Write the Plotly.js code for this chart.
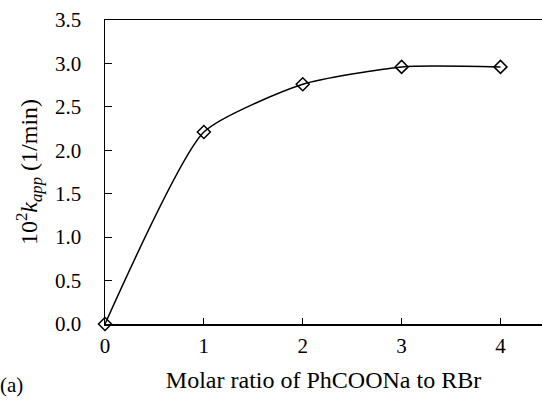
<!DOCTYPE html>
<html>
<head>
<meta charset="utf-8">
<script src="https://cdn.plot.ly/plotly-3.0.1.min.js"></script>
<style>html,body{margin:0;padding:0;background:#fff;}#chart{width:542px;height:402px;}</style>
</head>
<body>
<div id="chart"></div>
<script>
const molarRatio = [0, 1, 2, 3, 4];
const kApp = [0.0, 2.21, 2.76, 2.96, 2.96];
const yTicks = [0, 0.5, 1.0, 1.5, 2.0, 2.5, 3.0, 3.5];
const xTicks = [0, 1, 2, 3, 4];

const font = 'Liberation Serif';

const traces = [
  {
    x: molarRatio, y: kApp, type: 'scatter', mode: 'lines',
    line: {shape: 'spline', smoothing: 0.55, color: '#000', width: 1.5},
    hoverinfo: 'skip', showlegend: false
  },
  {
    x: molarRatio, y: kApp, type: 'scatter', mode: 'markers',
    marker: {symbol: 'diamond-open', size: 10, color: '#000', line: {width: 1.5, color: '#000'}},
    cliponaxis: false, showlegend: false
  }
];

const layout = {
  width: 542, height: 402,
  margin: {l: 105, r: 0, t: 20, b: 78},
  paper_bgcolor: '#fff', plot_bgcolor: '#fff',
  font: {family: font, color: '#000', size: 21},
  showlegend: false,
  xaxis: {
    range: [0, 4.42], tickvals: xTicks, ticktext: xTicks.map(String),
    ticks: 'inside', ticklen: 6, tickwidth: 1, tickcolor: '#000',
    showline: true, linecolor: '#000', linewidth: 1.5, mirror: true,
    showgrid: false, zeroline: false,
    ticklabelstandoff: 2,
    tickfont: {family: font, size: 21, color: '#000'},
    title: {text: 'Molar ratio of PhCOONa to RBr', font: {family: font, size: 24, color: '#000'}, standoff: 14}
  },
  yaxis: {
    range: [0, 3.5], tickvals: yTicks, ticktext: yTicks.map(v => v.toFixed(1)),
    ticks: 'inside', ticklen: 7, tickwidth: 1, tickcolor: '#000',
    showline: true, linecolor: '#000', linewidth: 1.5, mirror: false,
    showgrid: false, zeroline: false,
    ticklabelstandoff: 18,
    tickfont: {family: font, size: 21, color: '#000'},
    title: {text: '10<sup>2</sup><i>k</i><sub><i>app</i></sub> (1/min)', font: {family: font, size: 24, color: '#000'}, standoff: 10}
  },
  annotations: [
    {text: '(a)', xref: 'paper', yref: 'paper', x: -0.245, y: -0.2, xanchor: 'left', yanchor: 'middle',
     showarrow: false, font: {family: font, size: 21, color: '#000'}}
  ]
};

Plotly.newPlot('chart', traces, layout, {displayModeBar: false, staticPlot: true});
</script>
</body>
</html>
